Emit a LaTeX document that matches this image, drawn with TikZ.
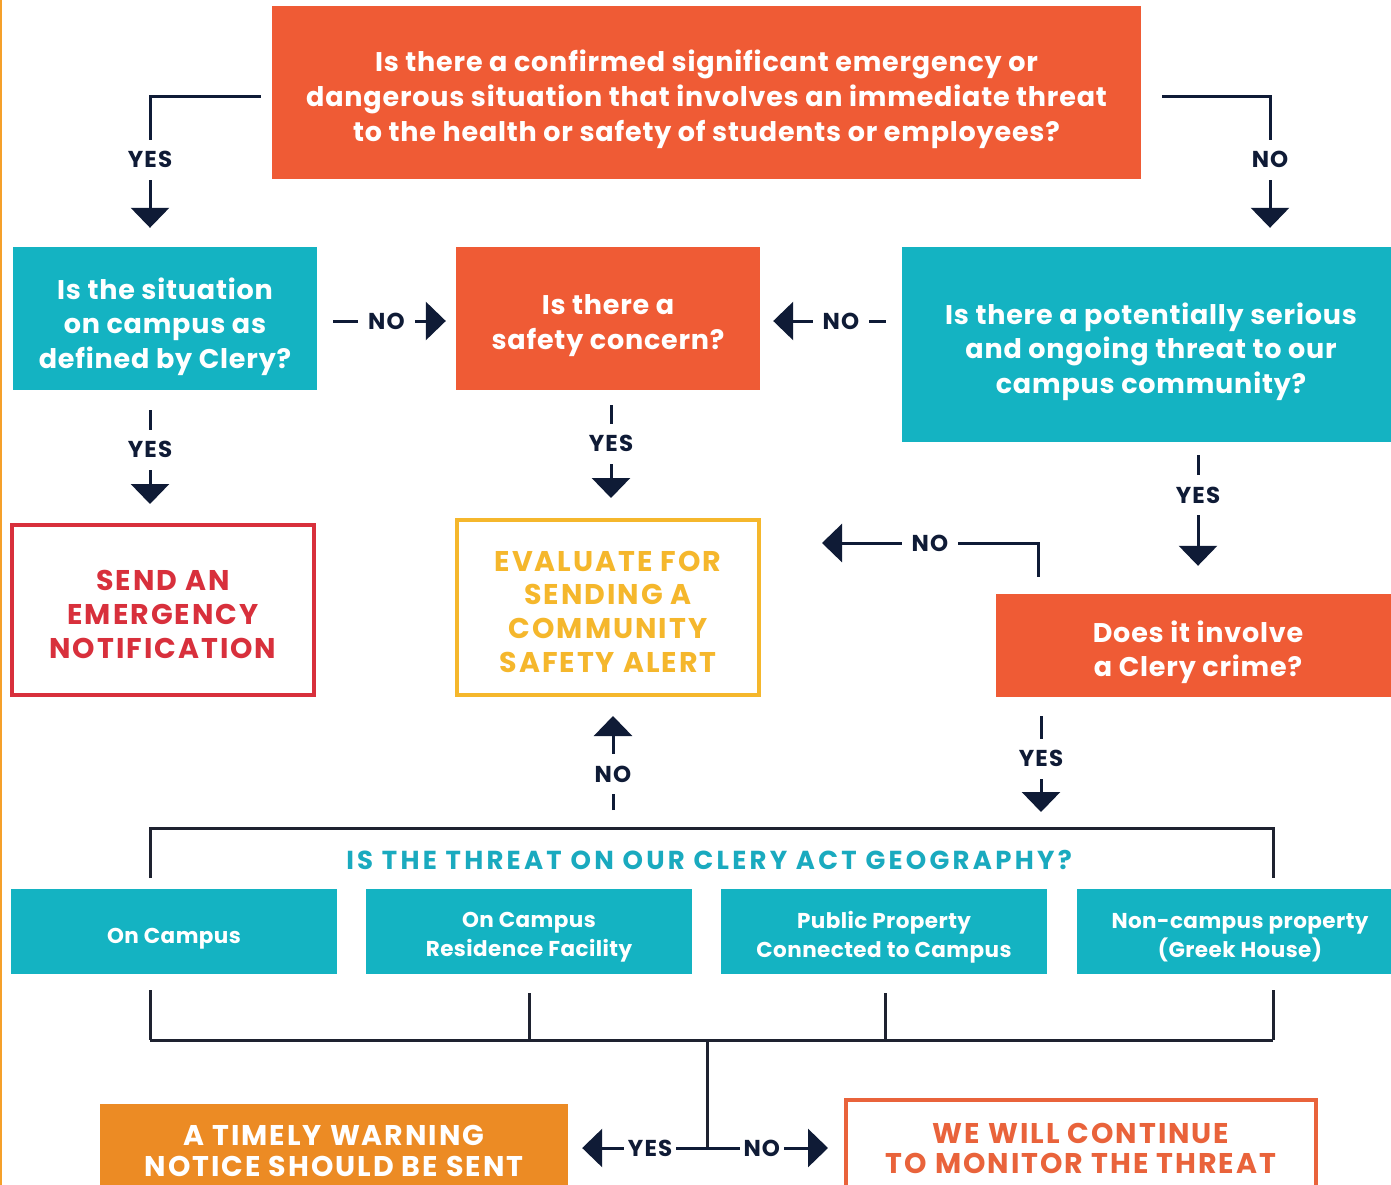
\documentclass[tikz,border=0pt]{standalone}
\usepackage{fontspec}
\setmainfont{Poppins}
\usetikzlibrary{arrows.meta,calc}
\definecolor{qorange}{HTML}{EF5B35}
\definecolor{teal}{HTML}{14B3C2}
\definecolor{navy}{HTML}{0F1B36}
\definecolor{linec}{HTML}{1E2230}
\definecolor{redo}{HTML}{D8303C}
\definecolor{yello}{HTML}{F5B72C}
\definecolor{tw}{HTML}{EC8B24}
\definecolor{mono}{HTML}{E9633B}
\definecolor{edgeor}{HTML}{F5A02A}
\definecolor{geot}{HTML}{1AAABF}
\newcommand{\qf}[2]{\fontsize{#1}{#2}\selectfont\bfseries}
\tikzset{
  boxbase/.style={inner sep=0pt},
  qtxt/.style={inner sep=0pt, align=center, text=white, font=\qf{27}{34.5}\addfontfeatures{LetterSpace=3}},
  captxt/.style={inner sep=0pt, align=center, font=\qf{28.5}{34}\addfontfeatures{LetterSpace=7}},
  smallbox/.style={inner sep=0pt, fill=teal, minimum width=326pt, minimum height=85pt},
  smalltxt/.style={inner sep=0pt, align=center, text=white, font=\qf{21.5}{29}\addfontfeatures{LetterSpace=2}},
  outbox/.style={inner sep=0pt, fill=white, line width=4pt},
  conn/.style={draw=navy, line width=3pt, -{Triangle[width=38pt,length=20pt]}},
  plain/.style={draw=linec, line width=3pt},
  lbl/.style={fill=white, text=navy, font=\qf{23}{23}\addfontfeatures{LetterSpace=5}, inner xsep=10pt, inner ysep=12pt, text height=16pt, text depth=0pt},
  lbltwo/.style={lbl, inner xsep=4pt},
}
\begin{document}
\begin{tikzpicture}[x=1pt,y=-1pt]
\useasboundingbox (0,0) rectangle (1391,1185);
\clip (0,0) rectangle (1391,1185);
\fill[white] (0,0) rectangle (1391,1185);
\fill[edgeor] (0,0) rectangle (2,1185);

% boxes
\node[boxbase, fill=qorange, minimum width=869pt, minimum height=173pt] (q1) at (706.5,92.5) {};
\node[qtxt, font=\qf{27}{35}\addfontfeatures{LetterSpace=3}] (q1t) at ([yshift=-7pt]q1.center)
  {Is there a confirmed significant emergency or\\dangerous situation that involves an immediate threat\\to the health or safety of students or employees?};
\node[boxbase, fill=teal, minimum width=304pt, minimum height=143pt] (L1) at (165,318.5) {};
\node[qtxt] (L1t) at ([yshift=-8pt]L1.center) {Is the situation\\on campus as\\defined by Clery?};
\node[boxbase, fill=qorange, minimum width=304pt, minimum height=143pt] (M1) at (608,318.5) {};
\node[qtxt] (M1t) at ([yshift=-7pt]M1.center) {Is there a\\safety concern?};
\node[boxbase, fill=teal, minimum width=498pt, minimum height=195pt] (R1) at (1151,344.5) {};
\node[qtxt] (R1t) at ([yshift=-7pt]R1.center) {Is there a potentially serious\\and ongoing threat to our\\campus community?};
\node[outbox, draw=redo, minimum width=302pt, minimum height=170pt] (E1) at (163,610) {};
\node[captxt, text=redo] (E1t) at ([yshift=-4pt]E1.center) {SEND AN\\EMERGENCY\\NOTIFICATION};
\node[outbox, draw=yello, minimum width=302pt, minimum height=175pt] (E2) at (608,607.5) {};
\node[captxt, text=yello, font=\qf{28.5}{33.7}\addfontfeatures{LetterSpace=7}] (E2t) at ([yshift=-4pt]E2.center)
  {EVALUATE FOR\\SENDING A\\COMMUNITY\\SAFETY ALERT};
\node[boxbase, fill=qorange, minimum width=404pt, minimum height=103pt] (C1) at (1198,645.5) {};
\node[qtxt] (C1t) at ([yshift=-7pt]C1.center) {Does it involve\\a Clery crime?};
\node[text=geot, font=\qf{26}{26}\addfontfeatures{LetterSpace=12.5}, inner sep=0pt] (geo) at (709,860)
  {IS THE THREAT ON OUR CLERY ACT GEOGRAPHY?};
\node[smallbox] (B1) at (174,931.5) {};
\node[smalltxt] at ([yshift=-7pt]B1.center) {On Campus};
\node[smallbox] (B2) at (529,931.5) {};
\node[smalltxt] at ([yshift=-6pt]B2.center) {On Campus\\Residence Facility};
\node[smallbox] (B3) at (884,931.5) {};
\node[smalltxt] at ([yshift=-6pt]B3.center) {Public Property\\Connected to Campus};
\node[smallbox] (B4) at (1240,931.5) {};
\node[smalltxt] at ([yshift=-6pt]B4.center) {Non-campus property\\(Greek House)};
\node[boxbase, fill=tw, minimum width=468pt, minimum height=92pt] (T1) at (334,1150) {};
\node[captxt, text=white, font=\qf{28.5}{31}\addfontfeatures{LetterSpace=7}] at ([yshift=-1pt]T1.center)
  {A TIMELY WARNING\\NOTICE SHOULD BE SENT};
\node[outbox, draw=mono, minimum width=470pt, minimum height=96pt] (W1) at (1081,1148) {};
\node[captxt, text=mono, font=\qf{28.5}{30}\addfontfeatures{LetterSpace=7}] at (W1.center)
  {WE WILL CONTINUE\\TO MONITOR THE THREAT};

% named points
\coordinate (gy) at (1041,828);
\coordinate (gn) at (613,828);
\coordinate (tl) at (150,878);
\coordinate (tr) at (1273,878);
\coordinate (btr) at (1273,828);
\coordinate (bl) at (150,1040);
\coordinate (br) at (1273,1040);
\coordinate (bm) at (707,1040);
\coordinate (j) at (707,1148);

% connectors
\draw[conn, shorten <=11pt, shorten >=19pt] ([yshift=-4.5pt]q1.west) -| node[lbl, pos=0.71]{YES} ([xshift=-15pt]L1.north);
\draw[conn, shorten <=21pt, shorten >=19pt] ([yshift=-4.5pt]q1.east) -| node[lbl, pos=0.71]{NO} ([xshift=119pt]R1.north);
\draw[conn, shorten <=16pt, shorten >=10pt] ([yshift=-2.5pt]L1.east) -- node[lbl]{NO} ([yshift=-2.5pt]M1.west);
\draw[conn, shorten <=16pt, shorten >=13pt] ([yshift=23.5pt]R1.west) -- node[lbl, pos=0.43]{NO} ([yshift=-2.5pt]M1.east);
\draw[conn, shorten <=20pt, shorten >=19pt] ([xshift=-15pt]L1.south) -- node[lbl, pos=0.45]{YES} ([xshift=-13pt]E1.north);
\draw[conn, shorten <=15pt, shorten >=20pt] ([xshift=3pt]M1.south) -- node[lbl, pos=0.42]{YES} ([xshift=3pt]E2.north);
\draw[conn, shorten <=13pt, shorten >=28pt] ([xshift=47pt]R1.south) -- node[lbl, pos=0.35]{YES} (C1.north);
\draw[conn, shorten <=17pt, shorten >=61pt] ([xshift=-160pt]C1.north) |- node[lbl, pos=0.695]{NO} ([yshift=64.5pt]E2.east);
\draw[conn, shorten <=19pt, shorten >=16pt] ([xshift=-157pt]C1.south) -- node[lbl, pos=0.47]{YES} (gy);
\draw[conn, shorten <=18pt, shorten >=19pt] (gn) -- node[lbl, pos=0.41]{NO} ([xshift=5pt]E2.south);

% geography bracket
\draw[plain] (tl) |- (btr) -- (tr);
\draw[plain, shorten <=16pt] (B1.south -| bl) -- (bl);
\draw[plain, shorten <=19pt] (B2.south) -- (B2.south |- bl);
\draw[plain, shorten <=19pt] ([xshift=1pt]B3.south) -- ([xshift=1pt]B3.south |- bl);
\draw[plain, shorten <=16pt] (B4.south -| br) -- (br);
\draw[plain] (bl) -- (br);
\draw[plain] (bm) -- (j);
\draw[conn, shorten >=14pt] (j) -- node[lbltwo, pos=0.41]{YES} (T1.east |- j);
\draw[conn, shorten >=16pt] (j) -- node[lbltwo, pos=0.40]{NO} (W1.west |- j);
\end{tikzpicture}
\end{document}
